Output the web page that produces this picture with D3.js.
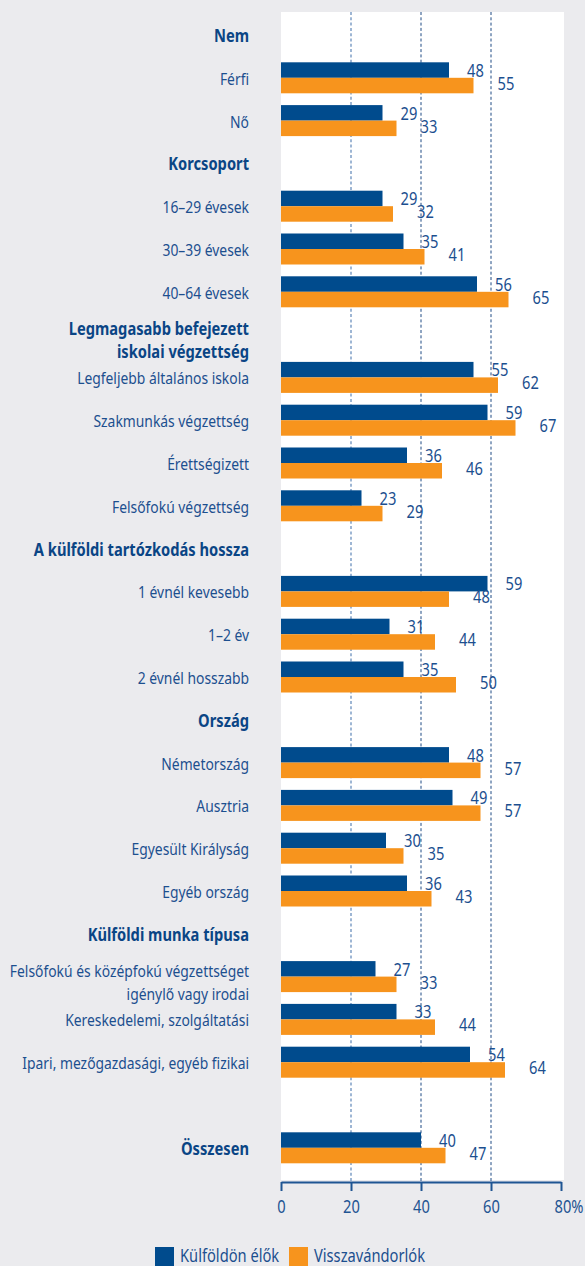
<!DOCTYPE html>
<html>
<head>
<meta charset="utf-8">
<script src="https://cdn.jsdelivr.net/npm/d3@7"></script>
<style>
  html, body { margin: 0; padding: 0; background: #ebebee; }
  svg { display: block; }
</style>
</head>
<body>
<script>
(function () {
  'use strict';

  const width = 585,
    height = 1266;

  // one entry per row, "" = empty spacer row, "\n" = line break
  var labels = [
    "Nem", "Férfi", "Nő",
    "Korcsoport", "16–29 évesek", "30–39 évesek", "40–64 évesek",
    "Legmagasabb befejezett\niskolai végzettség", "Legfeljebb általános iskola", "Szakmunkás végzettség", "Érettségizett", "Felsőfokú végzettség",
    "A külföldi tartózkodás hossza", "1 évnél kevesebb", "1–2 év", "2 évnél hosszabb",
    "Ország", "Németország", "Ausztria", "Egyesült Királyság", "Egyéb ország",
    "Külföldi munka típusa", "Felsőfokú és középfokú végzettséget\nigénylő vagy irodai", "Kereskedelemi, szolgáltatási", "Ipari, mezőgazdasági, egyéb fizikai",
    "", "Összesen"
  ];

  var headers = [
    "Nem", "Korcsoport", "Legmagasabb befejezett\niskolai végzettség",
    "A külföldi tartózkodás hossza", "Ország", "Külföldi munka típusa", "Összesen"
  ];

  var kulfoldonElok = [
    null, 48, 29,
    null, 29, 35, 56,
    null, 55, 59, 36, 23,
    null, 59, 31, 35,
    null, 48, 49, 30, 36,
    null, 27, 33, 54,
    null, 40
  ];

  var visszavandorlok = [
    null, 55, 33,
    null, 32, 41, 65,
    null, 62, 67, 46, 29,
    null, 48, 44, 50,
    null, 57, 57, 35, 43,
    null, 33, 44, 64,
    null, 47
  ];

  var seriesNames = ["Külföldön élők", "Visszavándorlók"];
  var tickValues = [0, 20, 40, 60, 80];

  var blue = '#004b8d',
    orange = '#f7941d',
    textBlue = '#1c4f8f',
    axisBlue = '#1f5593';

  var font = '"Noto Sans", "Open Sans", sans-serif';

  var svg = d3.select('body')
    .append('svg')
    .attr('width', width)
    .attr('height', height)
    .style('font-family', font);

  // the original uses a condensed face: squeeze text horizontally so that
  // "Legfeljebb általános iskola" comes out ~172px wide like in the picture
  var probe = svg.append('text').attr('font-size', '17px').text('Legfeljebb általános iskola');
  var k = Math.max(0.7, Math.min(0.95, 172 / probe.node().getComputedTextLength()));
  probe.remove();
  var kb = k * 1.06; // bold headers are a bit wider

  var x = d3.scaleLinear().domain([0, 80]).range([281, 561]);
  var y = d3.scaleBand().domain(d3.range(labels.length)).range([13.6, 1169.2]).padding(0);

  var rows = labels.map(function (l, i) {
    return { i: i, label: l, a: kulfoldonElok[i], b: visszavandorlok[i], header: headers.indexOf(l) >= 0 };
  });

  function cy(i) { return y(i) + y.bandwidth() / 2; }
  function place(px, py, s) { return 'translate(' + px + ',' + py + ') scale(' + (s || k) + ',1)'; }

  // white plot area
  svg.append('rect')
    .attr('x', x(0))
    .attr('y', 12)
    .attr('width', 564 - x(0))
    .attr('height', 1180 - 12)
    .style('fill', '#fff');

  // grid lines
  svg.selectAll('line.grid')
    .data([20, 40, 60])
    .enter()
    .append('line')
    .attr('class', 'grid')
    .attr('x1', d => x(d))
    .attr('x2', d => x(d))
    .attr('y1', 12)
    .attr('y2', 1182)
    .style('stroke', d => d === 20 ? '#7f9fc6' : '#1e4a84')
    .style('stroke-width', d => d === 20 ? 1.5 : 1)
    .style('stroke-dasharray', '3,2.3');

  var bh = 15.5;

  var bars = rows.filter(d => d.a !== null);

  svg.selectAll('rect.a')
    .data(bars)
    .enter()
    .append('rect')
    .attr('class', 'a')
    .attr('x', x(0))
    .attr('y', d => cy(d.i) - bh)
    .attr('width', d => x(d.a) - x(0))
    .attr('height', bh)
    .style('fill', blue);

  svg.selectAll('rect.b')
    .data(bars)
    .enter()
    .append('rect')
    .attr('class', 'b')
    .attr('x', x(0))
    .attr('y', d => cy(d.i))
    .attr('width', d => x(d.b) - x(0))
    .attr('height', bh)
    .style('fill', orange);

  svg.selectAll('text.va')
    .data(bars)
    .enter()
    .append('text')
    .attr('class', 'va')
    .attr('transform', d => place(x(d.a) + 18, cy(d.i) - 1))
    .attr('font-size', '18px')
    .style('fill', textBlue)
    .text(d => d.a);

  svg.selectAll('text.vb')
    .data(bars)
    .enter()
    .append('text')
    .attr('class', 'vb')
    .attr('transform', d => place(x(d.b) + 24, cy(d.i) + 12))
    .attr('font-size', '18px')
    .style('fill', textBlue)
    .text(d => d.b);

  // category labels
  var lab = svg.selectAll('text.lab')
    .data(rows.filter(d => d.label !== ''))
    .enter()
    .append('text')
    .attr('class', 'lab')
    .attr('text-anchor', 'end')
    .attr('transform', d => place(249, d.label.indexOf('\n') >= 0 ? cy(d.i) : cy(d.i) + 7, d.header ? kb : k))
    .attr('font-size', '17px')
    .attr('font-weight', d => d.header ? 'bold' : 'normal')
    .style('fill', d => d.header ? '#0a4585' : textBlue);

  lab.each(function (d) {
    d3.select(this).selectAll('tspan')
      .data(d.label.split('\n'))
      .enter()
      .append('tspan')
      .attr('x', 0)
      .attr('y', (t, n) => n * 23)
      .text(t => t);
  });

  // axis
  var axis = svg.append('g')
    .attr('transform', 'translate(0,1182)')
    .call(d3.axisBottom(x)
      .tickValues(tickValues)
      .tickSize(9)
      .tickSizeOuter(0)
      .tickPadding(9)
      .tickFormat(d => d === 80 ? '80%' : d));

  axis.select('.domain').style('stroke', axisBlue).style('stroke-width', 2);
  axis.selectAll('.tick line').style('stroke', axisBlue).style('stroke-width', 2);
  axis.selectAll('.tick text')
    .style('fill', axisBlue)
    .style('font-family', font)
    .attr('font-size', '18px')
    .attr('transform', 'scale(' + k + ',1)');
  axis.selectAll('.tick text')
    .filter(d => d === 80)
    .attr('text-anchor', 'start')
    .attr('x', -7 / k);

  // legend
  var legend = svg.selectAll('g.legend')
    .data(seriesNames)
    .enter()
    .append('g')
    .attr('class', 'legend')
    .attr('transform', (d, i) => 'translate(' + (i === 0 ? 155 : 289) + ',1247)');

  legend.append('rect')
    .attr('width', 19)
    .attr('height', 19)
    .style('fill', (d, i) => i === 0 ? blue : orange);

  legend.append('text')
    .attr('transform', place(25, 15))
    .attr('font-size', '18px')
    .style('fill', textBlue)
    .text(d => d);

})();
</script>
</body>
</html>
